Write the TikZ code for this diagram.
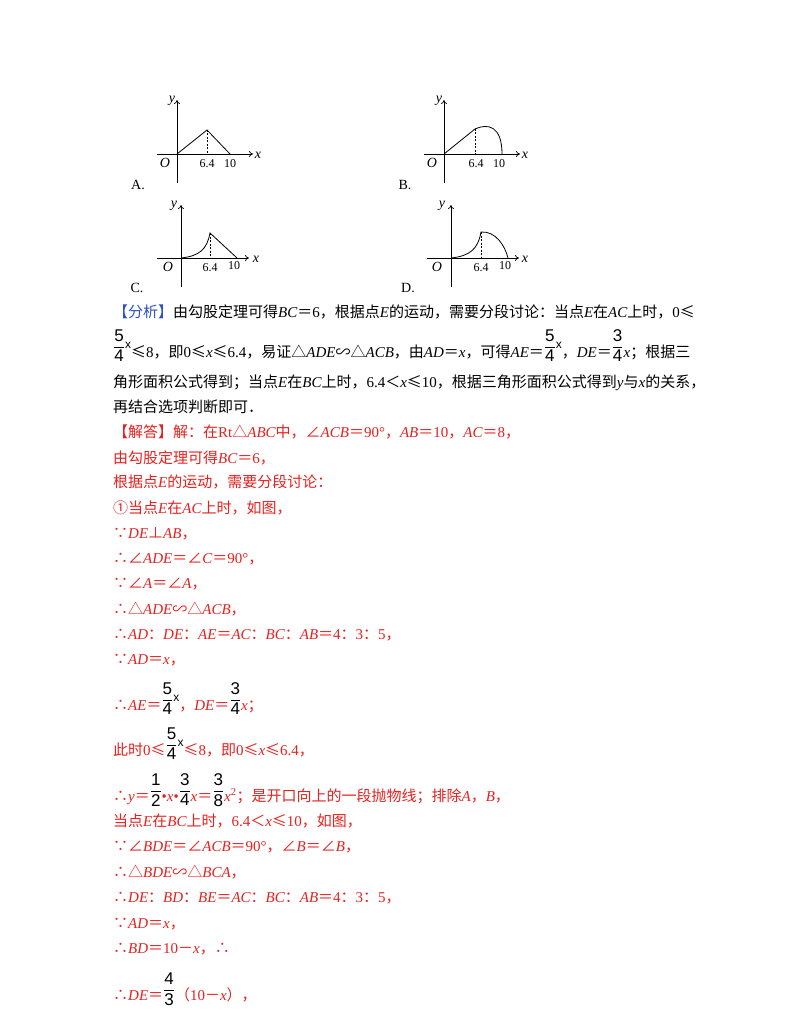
\documentclass[tikz,border=0pt]{standalone}
\usepackage{amsmath}
\usepackage{fontspec}
\usetikzlibrary{arrows.meta}
\setmainfont{Liberation Serif}
\newfontfamily\cjk{Noto Sans CJK SC}
\newfontfamily\latin{Liberation Serif}
\newfontfamily\arial{Liberation Sans}
\definecolor{rd}{HTML}{E8201E}
\definecolor{bl}{HTML}{2F4FC4}
\XeTeXinterchartokenstate=1
\newXeTeXintercharclass\cjkclass
\count255="4E00 \loop\XeTeXcharclass\count255=\cjkclass \ifnum\count255<"9FFF \advance\count255 by 1 \repeat
\count255="3000 \loop\XeTeXcharclass\count255=\cjkclass \ifnum\count255<"303F \advance\count255 by 1 \repeat
\count255="FF00 \loop\XeTeXcharclass\count255=\cjkclass \ifnum\count255<"FFEF \advance\count255 by 1 \repeat
\XeTeXcharclass"2235=\cjkclass \XeTeXcharclass"2234=\cjkclass \XeTeXcharclass"2220=\cjkclass
\XeTeXcharclass"25B3=\cjkclass \XeTeXcharclass"223D=\cjkclass \XeTeXcharclass"22A5=\cjkclass
\XeTeXcharclass"2460=\cjkclass \XeTeXcharclass"2264=\cjkclass
\XeTeXinterchartoks 0 \cjkclass={\cjk}
\XeTeXinterchartoks 4095 \cjkclass={\cjk}
\XeTeXinterchartoks \cjkclass 0={\latin}
\XeTeXinterchartoks 4095 0={\latin}
\newcommand\I[1]{{\itshape #1}}
\newcommand\ar[1]{\hbox{\XeTeXinterchartokenstate=0 \arial\fontsize{17}{17}\selectfont #1}}
\newcommand\fr[2]{\raisebox{6pt}{$\genfrac{}{}{0.8pt}{0}{\ar{#1}}{\ar{#2}}$}}
\newcommand\fx{\raisebox{9pt}{\hbox{\XeTeXinterchartokenstate=0 \arial\fontsize{12}{12}\selectfont x}}}
\tikzset{
  ln/.style={anchor=base west,inner sep=0pt,font=\fontsize{15}{17}\selectfont},
  lr/.style={ln,text=rd},
  ax/.style={line width=0.7pt,-{To[length=4pt,width=6pt]}},
  cv/.style={line width=0.8pt},
  dsh/.style={dashed,line width=0.6pt,dash pattern=on 2pt off 1.5pt},
  gl/.style={inner sep=0pt,font=\fontsize{12}{12}\selectfont},
  gi/.style={inner sep=0pt,font=\fontsize{14}{14}\selectfont\itshape},
  lab/.style={inner sep=0pt,font=\fontsize{14}{14}\selectfont},
}
\begin{document}
\begin{tikzpicture}[x=1pt,y=-1pt]
\path[use as bounding box,fill=white] (0,0) rectangle (800,1035);
% graph A
\draw[ax] (157,154) -- (253,154);
\draw[ax] (177,183) -- (177,100);
\draw[cv] (177,154) -- (207,130) -- (230,154);
\draw[dsh] (207,130) -- (207,154);
\node[gi] (ay) at (172,101) {y};
\node[gi] (ax) at (258,155) {x};
\node[gi] (ao) at (165,163) {O};
\node[gl] (a64) at (207,164) {6.4};
\node[gl] (a10) at (230,164) {10};
\node[lab] (al) at (138,185) {A.};
% graph B
\draw[ax] (424,154) -- (520,154);
\draw[ax] (444,183) -- (444,100);
\draw[cv] (444,154) -- (475,129) .. controls (488,123) and (502,126) .. (502,154);
\draw[dsh] (475,129) -- (475,154);
\node[gi] (by) at (439,101) {y};
\node[gi] (bx) at (525,155) {x};
\node[gi] (bo) at (432,163) {O};
\node[gl] (b64) at (476,164) {6.4};
\node[gl] (b10) at (499,164) {10};
\node[lab] (bll) at (405,185) {B.};
% graph C
\draw[ax] (157,258) -- (249,258);
\draw[ax] (181,287) -- (181,205);
\draw[cv] (181,258) .. controls (200,256) and (207,249) .. (210,233) -- (237,258);
\draw[dsh] (210,233) -- (210,258);
\node[gi] (cy) at (174,206) {y};
\node[gi] (cx) at (256,259) {x};
\node[gi] (co) at (168,267) {O};
\node[gl] (c64) at (210,268) {6.4};
\node[gl] (c10) at (234,266) {10};
\node[lab] (cl) at (137,288) {C.};
% graph D
\draw[ax] (427,258) -- (519,258);
\draw[ax] (451,287) -- (451,205);
\draw[cv] (451,258) .. controls (470,256) and (478,249) .. (481,232) .. controls (496,231) and (505,246) .. (508,258);
\draw[dsh] (481,232) -- (481,258);
\node[gi] (dy) at (442,206) {y};
\node[gi] (dx) at (525,259) {x};
\node[gi] (do) at (437,267) {O};
\node[gl] (d64) at (481,268) {6.4};
\node[gl] (d10) at (505,266) {10};
\node[lab] (dl) at (408,288) {D.};
% text
\node[ln] (t1) at (113,317) {\textcolor{bl}{【分析】}由勾股定理可得\I{BC}＝6，根据点\I{E}的运动，需要分段讨论：当点\I{E}在\I{AC}上时，0≤};
\node[ln] (t2) at (113,357) {\fr54\fx≤8，即0≤\I{x}≤6.4，易证△\I{ADE}∽△\I{ACB}，由\I{AD}＝\I{x}，可得\I{AE}＝\fr54\fx，\I{DE}＝\fr34\I{x}；根据三};
\node[ln] (t3) at (113,387) {角形面积公式得到；当点\I{E}在\I{BC}上时，6.4＜\I{x}≤10，根据三角形面积公式得到\I{y}与\I{x}的关系，};
\node[ln] (t4) at (113,412) {再结合选项判断即可．};
\node[lr] (t5) at (113,437) {【解答】解：在Rt△\I{ABC}中，∠\I{ACB}＝90°，\I{AB}＝10，\I{AC}＝8，};
\node[lr] (t6) at (113,463) {由勾股定理可得\I{BC}＝6，};
\node[lr] (t7) at (113,487) {根据点\I{E}的运动，需要分段讨论：};
\node[lr] (t8) at (113,513) {①当点\I{E}在\I{AC}上时，如图，};
\node[lr] (t9) at (113,538) {∵\I{DE}⊥\I{AB}，};
\node[lr] (t10) at (113,563) {∴∠\I{ADE}＝∠\I{C}＝90°，};
\node[lr] (t11) at (113,588) {∵∠\I{A}＝∠\I{A}，};
\node[lr] (t12) at (113,614) {∴△\I{ADE}∽△\I{ACB}，};
\node[lr] (t13) at (113,639) {∴\I{AD}：\I{DE}：\I{AE}＝\I{AC}：\I{BC}：\I{AB}＝4：3：5，};
\node[lr] (t14) at (113,664) {∵\I{AD}＝\I{x}，};
\node[lr] (t15) at (113,710) {∴\I{AE}＝\textcolor{black}{\fr54\fx}，\I{DE}＝\textcolor{black}{\fr34}\I{x}；};
\node[lr] (t16) at (113,755) {此时0≤\textcolor{black}{\fr54\fx}≤8，即0≤\I{x}≤6.4，};
\node[lr] (t17) at (113,801) {∴\I{y}＝\textcolor{black}{\fr12}•\I{x}•\textcolor{black}{\fr34}\I{x}＝\textcolor{black}{\fr38}\I{x}\textsuperscript{2}；是开口向上的一段抛物线；排除\I{A}，\I{B}，};
\node[lr] (t18) at (113,826) {当点\I{E}在\I{BC}上时，6.4＜\I{x}≤10，如图，};
\node[lr] (t19) at (113,851) {∵∠\I{BDE}＝∠\I{ACB}＝90°，∠\I{B}＝∠\I{B}，};
\node[lr] (t20) at (113,877) {∴△\I{BDE}∽△\I{BCA}，};
\node[lr] (t21) at (113,902) {∴\I{DE}：\I{BD}：\I{BE}＝\I{AC}：\I{BC}：\I{AB}＝4：3：5，};
\node[lr] (t22) at (113,928) {∵\I{AD}＝\I{x}，};
\node[lr] (t23) at (113,953) {∴\I{BD}＝10－\I{x}，∴};
\node[lr] (t24) at (113,1000) {∴\I{DE}＝\textcolor{black}{\fr43}（10－\I{x}），};
\end{tikzpicture}
\end{document}
